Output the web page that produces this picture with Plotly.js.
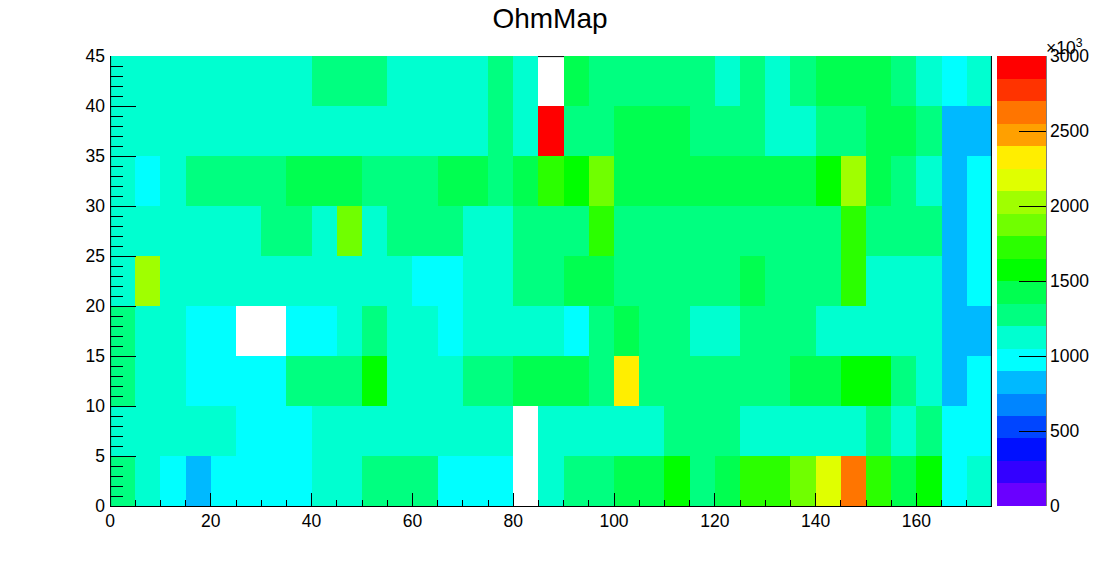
<!DOCTYPE html>
<html>
<head>
<meta charset="utf-8">
<script src="https://cdn.plot.ly/plotly-3.0.1.min.js"></script>
<style>html,body{margin:0;padding:0;background:#fff}#chart{width:1102px;height:562px}</style>
</head>
<body>
<div id="chart"></div>
<script>
// Bin edges
var xBinStart = 0, xBinSize = 5, yBinStart = 0, yBinSize = 5;
// Values, in units of 10^3, one list per row from the bottom
var _ = null;
var row00 = [1275,1125,975,825,975,975,975,975,1125,1125,1275,1275,1275,975,975,975,_,1125,1275,1275,1425,1425,1575,1275,1425,1725,1725,1875,2175,2625,1725,1425,1575,975,1125];
var row05 = [1125,1125,1125,1125,1125,975,975,975,1125,1125,1125,1125,1125,1125,1125,1125,_,1125,1125,1125,1125,1125,1275,1275,1275,1125,1125,1125,1125,1125,1275,1125,1275,975,975];
var row10 = [1275,1125,1125,975,975,975,975,1275,1275,1275,1575,1125,1125,1125,1275,1275,1425,1425,1425,1275,2325,1275,1275,1275,1275,1275,1275,1425,1425,1575,1575,1275,1125,825,975];
var row15 = [1275,1125,1125,975,975,_,_,975,975,1125,1275,1125,1125,975,1125,1125,1125,1125,975,1275,1425,1275,1275,1125,1125,1275,1275,1275,1125,1125,1125,1125,1125,825,825];
var row20 = [1125,1975,1125,1125,1125,1125,1125,1125,1125,1125,1125,1125,975,975,1125,1125,1275,1275,1425,1425,1275,1275,1275,1275,1275,1425,1275,1275,1275,1725,1125,1125,1125,825,975];
var row25 = [1125,1125,1125,1125,1125,1125,1275,1275,1125,1875,1125,1275,1275,1275,1125,1125,1275,1275,1275,1725,1275,1275,1275,1275,1275,1275,1275,1275,1275,1725,1275,1275,1275,825,975];
var row30 = [1125,975,1125,1275,1275,1275,1275,1425,1425,1425,1275,1275,1275,1425,1425,1275,1425,1725,1575,1875,1425,1425,1425,1425,1425,1425,1425,1425,1575,1975,1425,1275,1125,825,975];
var row35 = [1125,1125,1125,1125,1125,1125,1125,1125,1125,1125,1125,1125,1125,1125,1125,1275,1125,2925,1275,1275,1425,1425,1425,1275,1275,1275,1125,1125,1275,1275,1425,1425,1275,825,825];
var row40 = [1125,1125,1125,1125,1125,1125,1125,1125,1275,1275,1275,1125,1125,1125,1125,1275,1125,_,1425,1275,1275,1275,1275,1275,1125,1275,1125,1275,1425,1425,1425,1275,1125,975,1125];
var rows = [row00,row05,row10,row15,row20,row25,row30,row35,row40];
// Palette levels, bottom to top
var levels = ['#6a00ff','#3300ff','#0010ff','#0045ff','#0085ff','#00b9ff','#00ffff','#00ffd0','#00ff80','#00ff50',
              '#00ff00','#2bff00','#70ff00','#a0ff00','#e0ff00','#ffee00','#ffa000','#ff7500','#ff3300','#ff0000'];
var zMin = 0, zMax = 3000;

var scale = [];
levels.forEach(function (c, i) {
  scale.push([i / levels.length, c]);
  scale.push([(i + 1) / levels.length, c]);
});

var font = {family: '"Liberation Sans", Arial, sans-serif', size: 17.5, color: '#000'};

var trace = {
  type: 'heatmap',
  z: rows,
  x0: xBinStart + xBinSize / 2, dx: xBinSize,
  y0: yBinStart + yBinSize / 2, dy: yBinSize,
  zmin: zMin, zmax: zMax,
  colorscale: scale,
  hoverongaps: false,
  colorbar: {
    x: 887 / 882, xanchor: 'left', xpad: 0,
    y: 0.5, yanchor: 'middle', ypad: 0, len: 1,
    thickness: 49, thicknessmode: 'pixels',
    outlinewidth: 0,
    tick0: 0, dtick: 500,
    ticks: 'inside', ticklen: 27, tickwidth: 1, tickcolor: '#000',
    tickfont: font
  }
};

var layout = {
  width: 1102, height: 562,
  margin: {l: 110, r: 110, t: 56, b: 56, pad: 0, autoexpand: false},
  paper_bgcolor: '#fff', plot_bgcolor: '#fff',
  font: font,
  title: {text: 'OhmMap', font: {family: font.family, size: 28, color: '#000'},
          x: 550 / 1102, xanchor: 'center', y: 1 - 18.5 / 562, yanchor: 'middle'},
  xaxis: {
    range: [0, 175], showgrid: false, zeroline: false,
    showline: true, linecolor: '#000', linewidth: 1,
    tick0: 0, dtick: 20, ticks: 'inside', ticklen: 13, tickwidth: 1, tickcolor: '#000',
    ticklabelstandoff: -1,
    minor: {tick0: 0, dtick: 5, ticks: 'inside', ticklen: 6, tickwidth: 1, tickcolor: '#000', showgrid: false},
    tickfont: font
  },
  yaxis: {
    range: [0, 45], showgrid: false, zeroline: false,
    showline: false,
    tick0: 0, dtick: 5, ticks: 'inside', ticklen: 26, tickwidth: 1, tickcolor: '#000',
    ticklabelstandoff: 4,
    minor: {tick0: 0, dtick: 1, ticks: 'inside', ticklen: 13, tickwidth: 1, tickcolor: '#000', showgrid: false},
    tickfont: font
  },
  shapes: [
    {type: 'line', xref: 'paper', yref: 'paper', x0: 0, x1: 1, y0: 1 - 0.6 / 450, y1: 1 - 0.6 / 450, layer: 'below', line: {color: '#000', width: 1}},
    {type: 'line', xref: 'paper', yref: 'paper', x0: 0.6 / 882, x1: 0.6 / 882, y0: 0, y1: 1, layer: 'above', line: {color: '#000', width: 1}},
    {type: 'line', xref: 'paper', yref: 'paper', x0: 1 - 0.6 / 882, x1: 1 - 0.6 / 882, y0: 0, y1: 1, layer: 'above', line: {color: '#000', width: 1}},
    {type: 'line', xref: 'paper', yref: 'paper', x0: 936 / 882, x1: 936 / 882, y0: 0, y1: 1, layer: 'above', line: {color: '#000', width: 1}}
  ],
  annotations: [{
    text: '×10<sup>3</sup>', showarrow: false,
    xref: 'paper', yref: 'paper', x: 934 / 882, y: 1 + 9 / 450, xanchor: 'left', yanchor: 'middle',
    font: font
  }]
};

Plotly.newPlot('chart', [trace], layout, {displayModeBar: false, staticPlot: true});
</script>
</body>
</html>
